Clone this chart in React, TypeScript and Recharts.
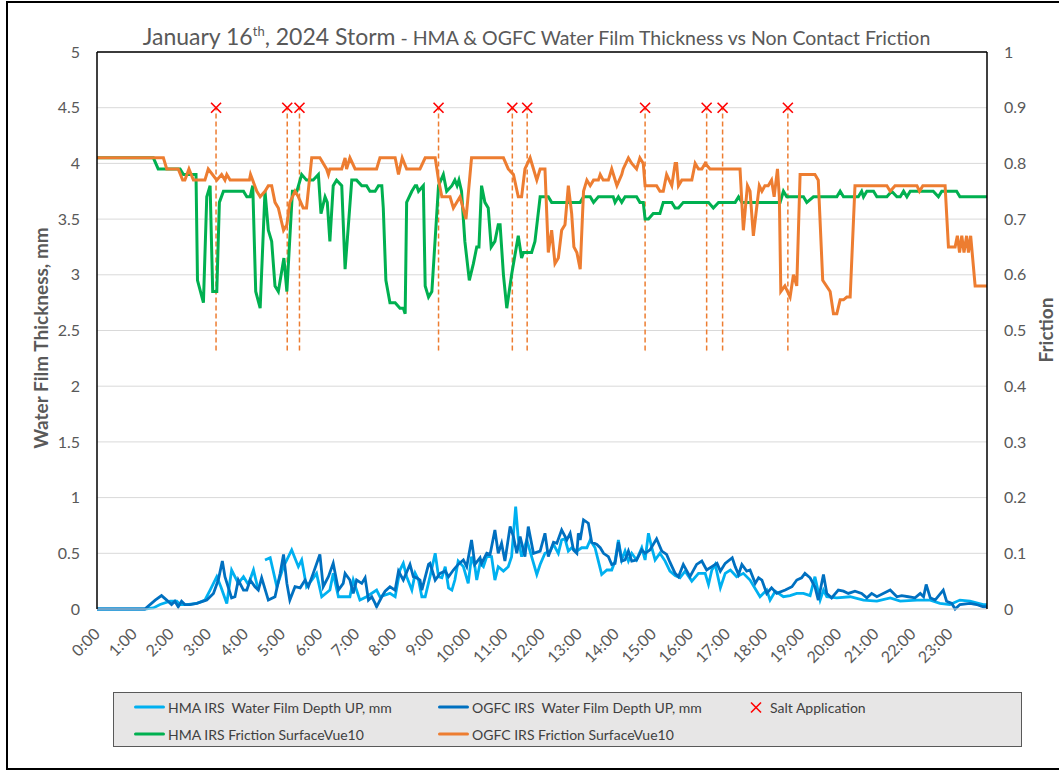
import { ComposedChart, Line, Scatter, ErrorBar, XAxis, YAxis, CartesianGrid, ReferenceLine } from "recharts";

// time in hours, value
const hourTicks = [0, 1, 2, 3, 4, 5, 6, 7, 8, 9, 10, 11, 12, 13, 14, 15, 16, 17, 18, 19, 20, 21, 22, 23];
const depthTicks = [0, 0.5, 1, 1.5, 2, 2.5, 3, 3.5, 4, 4.5, 5];
const frictionTicks = [0, 0.1, 0.2, 0.3, 0.4, 0.5, 0.6, 0.7, 0.8, 0.9, 1];

const hmaDepth: [number, number | null][] = [
  [0, 0], [1.29, 0], [1.52, 0.01], [1.7, 0.04], [1.97, 0.07], [2.15, 0.07], [2.24, 0.04], [2.42, 0.04], [2.69, 0.05], [2.91, 0.08],
  [3.05, 0.17], [3.23, 0.29], [3.34, 0.2], [3.5, 0.05], [3.63, 0.35], [3.81, 0.23], [3.95, 0.29], [4.08, 0.22], [4.22, 0.35], [4.35, 0.17],
  [4.44, null], [4.53, 0.44], [4.67, 0.46], [4.85, 0.2], [5.03, 0.38], [5.25, 0.53], [5.43, 0.38], [5.52, 0.44], [5.65, 0.2], [5.79, 0.26],
  [5.92, 0.32], [6.06, 0.11], [6.28, 0.17], [6.37, 0.32], [6.51, 0.11], [6.82, 0.11], [6.91, 0.26], [7.09, 0.08], [7.27, 0.11], [7.54, 0.17],
  [7.63, 0.11], [7.9, 0.14], [8.04, 0.11], [8.17, 0.35], [8.26, 0.41], [8.35, 0.29], [8.49, 0.17], [8.58, 0.32], [8.67, 0.26], [8.76, 0.11],
  [8.85, 0.11], [8.98, 0.29], [9.12, 0.5], [9.21, 0.29], [9.3, 0.28], [9.39, 0.38], [9.48, 0.19], [9.57, 0.17], [9.65, 0.26], [9.74, 0.43],
  [9.88, 0.38], [10.01, 0.23], [10.1, 0.47], [10.19, 0.38], [10.24, 0.26], [10.33, 0.41], [10.42, 0.38], [10.51, 0.47], [10.64, 0.47], [10.73, 0.26],
  [10.82, 0.38], [10.96, 0.34], [11.09, 0.38], [11.18, 0.47], [11.29, 0.92], [11.36, 0.63], [11.45, 0.47], [11.59, 0.62], [11.72, 0.47], [11.86, 0.31],
  [11.95, 0.4], [12.08, 0.5], [12.22, 0.52], [12.31, 0.58], [12.44, 0.5], [12.53, 0.62], [12.62, 0.63], [12.71, 0.52], [12.8, 0.55], [12.94, 0.52],
  [13.07, 0.55], [13.21, 0.55], [13.3, 0.62], [13.43, 0.55], [13.52, 0.43], [13.61, 0.31], [13.75, 0.35], [13.88, 0.35], [13.97, 0.43], [14.06, 0.62],
  [14.15, 0.44], [14.24, 0.52], [14.33, 0.43], [14.42, 0.5], [14.55, 0.44], [14.69, 0.55], [14.78, 0.44], [14.87, 0.68], [14.96, 0.55], [15.05, 0.44],
  [15.18, 0.5], [15.32, 0.43], [15.45, 0.34], [15.59, 0.3], [15.72, 0.28], [15.86, 0.34], [16.04, 0.25], [16.22, 0.32], [16.4, 0.32], [16.49, 0.22],
  [16.58, 0.35], [16.67, 0.4], [16.81, 0.19], [16.94, 0.32], [17.08, 0.35], [17.25, 0.29], [17.43, 0.32], [17.61, 0.26], [17.88, 0.11], [18.06, 0.17],
  [18.15, 0.08], [18.29, 0.16], [18.51, 0.11], [18.69, 0.12], [18.87, 0.14], [19.05, 0.14], [19.23, 0.12], [19.36, 0.29], [19.5, 0.08], [19.59, 0.17],
  [19.68, 0.11], [19.95, 0.1], [20.31, 0.11], [20.67, 0.08], [21.03, 0.07], [21.39, 0.1], [21.66, 0.07], [22.11, 0.08], [22.47, 0.08], [22.73, 0.05],
  [23.0, 0.04], [23.27, 0.08], [23.54, 0.07], [23.9, 0.04], [24, 0.04],
];

const ogfcDepth: [number, number][] = [
  [0, 0], [1.29, 0], [1.57, 0.08], [1.74, 0.12], [1.88, 0.08], [2.01, 0.04], [2.1, 0.07], [2.19, 0.02], [2.28, 0.07], [2.37, 0.04],
  [2.51, 0.04], [2.69, 0.05], [2.87, 0.07], [2.96, 0.08], [3.14, 0.14], [3.27, 0.26], [3.38, 0.43], [3.45, 0.29], [3.63, 0.1], [3.72, 0.11],
  [3.81, 0.26], [3.95, 0.17], [4.04, 0.17], [4.13, 0.26], [4.26, 0.2], [4.35, 0.17], [4.44, 0.28], [4.62, 0.08], [4.8, 0.11], [4.94, 0.32],
  [5.03, 0.49], [5.12, 0.23], [5.2, 0.08], [5.34, 0.2], [5.48, 0.19], [5.61, 0.26], [5.7, 0.2], [5.83, 0.32], [6.01, 0.49], [6.1, 0.2],
  [6.24, 0.29], [6.37, 0.41], [6.51, 0.17], [6.64, 0.23], [6.69, 0.32], [6.82, 0.26], [6.91, 0.14], [7.0, 0.26], [7.14, 0.23], [7.23, 0.28],
  [7.32, 0.08], [7.41, 0.11], [7.5, 0.05], [7.54, 0.02], [7.68, 0.11], [7.77, 0.16], [7.9, 0.2], [8.04, 0.17], [8.13, 0.34], [8.26, 0.26],
  [8.44, 0.4], [8.53, 0.29], [8.62, 0.28], [8.71, 0.26], [8.76, 0.17], [8.94, 0.4], [8.98, 0.41], [9.12, 0.26], [9.25, 0.32], [9.39, 0.34],
  [9.48, 0.29], [9.61, 0.35], [9.74, 0.4], [9.88, 0.44], [9.97, 0.38], [10.1, 0.62], [10.19, 0.4], [10.33, 0.46], [10.37, 0.41], [10.51, 0.5],
  [10.6, 0.49], [10.73, 0.71], [10.82, 0.5], [10.91, 0.59], [11.0, 0.43], [11.14, 0.74], [11.23, 0.65], [11.32, 0.5], [11.41, 0.65], [11.54, 0.47],
  [11.63, 0.74], [11.77, 0.5], [11.95, 0.52], [12.08, 0.68], [12.17, 0.47], [12.31, 0.6], [12.4, 0.59], [12.53, 0.71], [12.67, 0.62], [12.76, 0.68],
  [12.85, 0.53], [12.94, 0.5], [12.98, 0.68], [13.03, 0.62], [13.12, 0.8], [13.25, 0.77], [13.34, 0.6], [13.48, 0.58], [13.57, 0.55], [13.66, 0.5],
  [13.79, 0.47], [13.88, 0.4], [13.97, 0.41], [14.06, 0.6], [14.15, 0.43], [14.24, 0.44], [14.33, 0.52], [14.42, 0.43], [14.55, 0.44], [14.69, 0.53],
  [14.78, 0.5], [14.91, 0.53], [15.09, 0.63], [15.23, 0.52], [15.36, 0.49], [15.45, 0.42], [15.59, 0.32], [15.68, 0.29], [15.81, 0.4], [15.99, 0.29],
  [16.17, 0.4], [16.31, 0.43], [16.44, 0.35], [16.58, 0.38], [16.72, 0.41], [16.81, 0.34], [16.94, 0.41], [17.13, 0.46], [17.21, 0.38], [17.3, 0.31],
  [17.39, 0.4], [17.52, 0.34], [17.61, 0.35], [17.75, 0.23], [17.84, 0.28], [17.93, 0.26], [18.06, 0.14], [18.19, 0.19], [18.33, 0.14], [18.56, 0.17],
  [18.74, 0.2], [18.87, 0.26], [19.0, 0.28], [19.09, 0.32], [19.23, 0.28], [19.36, 0.2], [19.45, 0.08], [19.59, 0.31], [19.68, 0.14], [19.81, 0.1],
  [19.99, 0.17], [20.13, 0.16], [20.26, 0.14], [20.44, 0.16], [20.62, 0.14], [20.76, 0.1], [20.89, 0.14], [21.03, 0.11], [21.39, 0.17], [21.57, 0.11],
  [21.7, 0.12], [21.88, 0.11], [22.06, 0.1], [22.2, 0.14], [22.29, 0.11], [22.36, 0.22], [22.47, 0.1], [22.6, 0.08], [22.82, 0.17], [22.91, 0.07],
  [23.05, 0.05], [23.14, 0], [23.27, 0.04], [23.54, 0.05], [23.72, 0.04], [23.9, 0.02], [24, 0.02],
];

const hmaFriction: [number, number][] = [
  [0, 0.81], [1.52, 0.81], [1.65, 0.79], [2.24, 0.79], [2.33, 0.78], [2.67, 0.78], [2.71, 0.59], [2.87, 0.55], [2.96, 0.74], [3.05, 0.76],
  [3.12, 0.57], [3.23, 0.57], [3.3, 0.73], [3.41, 0.75], [3.95, 0.75], [4.04, 0.74], [4.13, 0.74], [4.2, 0.76], [4.28, 0.57], [4.4, 0.54],
  [4.53, 0.75], [4.62, 0.68], [4.71, 0.66], [4.8, 0.58], [4.89, 0.57], [5.04, 0.63], [5.12, 0.57], [5.27, 0.75], [5.39, 0.75], [5.52, 0.78],
  [5.65, 0.77], [5.83, 0.77], [5.97, 0.78], [6.04, 0.71], [6.15, 0.74], [6.21, 0.73], [6.28, 0.66], [6.37, 0.76], [6.46, 0.77], [6.6, 0.76],
  [6.69, 0.61], [6.87, 0.77], [7.0, 0.77], [7.14, 0.76], [7.27, 0.76], [7.36, 0.75], [7.5, 0.75], [7.59, 0.76], [7.68, 0.76], [7.72, 0.72],
  [7.79, 0.59], [7.9, 0.55], [8.04, 0.55], [8.17, 0.54], [8.26, 0.54], [8.31, 0.53], [8.35, 0.73], [8.49, 0.75], [8.58, 0.76], [8.62, 0.76],
  [8.67, 0.75], [8.8, 0.76], [8.85, 0.58], [8.94, 0.56], [9.03, 0.57], [9.21, 0.76], [9.34, 0.78], [9.43, 0.75], [9.57, 0.76], [9.65, 0.77],
  [9.71, 0.76], [9.76, 0.77], [9.83, 0.75], [9.92, 0.66], [10.04, 0.59], [10.15, 0.62], [10.24, 0.65], [10.3, 0.65], [10.37, 0.76], [10.46, 0.73],
  [10.55, 0.72], [10.63, 0.65], [10.73, 0.66], [10.82, 0.69], [10.87, 0.69], [10.96, 0.6], [11.05, 0.54], [11.18, 0.6], [11.36, 0.67], [11.45, 0.63],
  [11.5, 0.64], [11.72, 0.64], [11.81, 0.66], [11.95, 0.74], [12.17, 0.74], [12.26, 0.73], [13.03, 0.73], [13.12, 0.74], [13.3, 0.74], [13.39, 0.73],
  [13.52, 0.74], [13.92, 0.74], [13.97, 0.73], [14.06, 0.74], [14.15, 0.73], [14.24, 0.74], [14.55, 0.74], [14.64, 0.73], [14.73, 0.73], [14.78, 0.7],
  [14.87, 0.7], [15.0, 0.71], [15.18, 0.71], [15.27, 0.73], [15.5, 0.73], [15.59, 0.72], [15.68, 0.72], [15.81, 0.73], [16.49, 0.73], [16.62, 0.72],
  [16.76, 0.73], [17.21, 0.73], [17.3, 0.74], [17.39, 0.73], [18.42, 0.73], [18.51, 0.75], [18.6, 0.74], [19.05, 0.74], [19.14, 0.73], [19.32, 0.74],
  [19.95, 0.74], [20.04, 0.75], [20.13, 0.74], [20.53, 0.74], [20.62, 0.75], [20.67, 0.74], [20.76, 0.75], [20.94, 0.75], [21.03, 0.74], [21.3, 0.74],
  [21.43, 0.75], [21.57, 0.74], [21.66, 0.74], [21.75, 0.75], [21.84, 0.74], [21.93, 0.75], [22.55, 0.75], [22.69, 0.74], [22.78, 0.75], [23.18, 0.75],
  [23.27, 0.74], [24, 0.74],
];

const ogfcFriction: [number, number][] = [
  [0, 0.81], [1.79, 0.81], [1.88, 0.79], [2.19, 0.79], [2.31, 0.77], [2.37, 0.77], [2.48, 0.79], [2.6, 0.77], [2.91, 0.77], [3.0, 0.79],
  [3.23, 0.77], [3.36, 0.78], [3.45, 0.77], [3.5, 0.78], [3.59, 0.77], [4.11, 0.77], [4.14, 0.78], [4.31, 0.75], [4.4, 0.74], [4.53, 0.75],
  [4.62, 0.76], [4.71, 0.76], [4.8, 0.73], [4.89, 0.72], [5.03, 0.68], [5.12, 0.69], [5.2, 0.73], [5.34, 0.75], [5.43, 0.74], [5.56, 0.72],
  [5.65, 0.72], [5.79, 0.81], [6.01, 0.81], [6.19, 0.79], [6.24, 0.78], [6.28, 0.79], [6.6, 0.79], [6.69, 0.81], [6.73, 0.79], [6.82, 0.81],
  [6.96, 0.79], [7.54, 0.79], [7.63, 0.81], [8.04, 0.81], [8.13, 0.78], [8.23, 0.81], [8.35, 0.79], [8.71, 0.79], [8.85, 0.81], [9.12, 0.81],
  [9.21, 0.77], [9.3, 0.74], [9.52, 0.74], [9.61, 0.72], [9.79, 0.74], [9.95, 0.7], [10.1, 0.81], [10.96, 0.81], [11.09, 0.79], [11.23, 0.78],
  [11.36, 0.74], [11.45, 0.74], [11.54, 0.79], [11.68, 0.81], [11.77, 0.79], [11.86, 0.77], [11.95, 0.79], [12.08, 0.79], [12.17, 0.64], [12.26, 0.68],
  [12.35, 0.62], [12.44, 0.63], [12.53, 0.68], [12.62, 0.69], [12.71, 0.76], [12.8, 0.71], [12.86, 0.65], [12.94, 0.64], [13.03, 0.61], [13.12, 0.75],
  [13.21, 0.77], [13.3, 0.76], [13.39, 0.77], [13.52, 0.77], [13.57, 0.78], [13.65, 0.77], [13.79, 0.77], [13.88, 0.79], [14.02, 0.76], [14.15, 0.78],
  [14.19, 0.79], [14.33, 0.81], [14.42, 0.8], [14.55, 0.79], [14.64, 0.81], [14.73, 0.8], [14.78, 0.76], [15.09, 0.76], [15.18, 0.75], [15.27, 0.75],
  [15.36, 0.78], [15.5, 0.76], [15.59, 0.8], [15.63, 0.8], [15.68, 0.76], [15.77, 0.77], [16.04, 0.77], [16.13, 0.8], [16.22, 0.79], [16.31, 0.79],
  [16.4, 0.8], [16.53, 0.79], [17.34, 0.79], [17.43, 0.68], [17.54, 0.76], [17.61, 0.75], [17.7, 0.67], [17.77, 0.71], [17.86, 0.76], [17.93, 0.75],
  [18.01, 0.76], [18.1, 0.76], [18.19, 0.77], [18.26, 0.74], [18.35, 0.79], [18.4, 0.74], [18.44, 0.57], [18.55, 0.58], [18.69, 0.56], [18.78, 0.6],
  [18.87, 0.58], [18.96, 0.78], [19.36, 0.78], [19.45, 0.77], [19.57, 0.59], [19.77, 0.57], [19.86, 0.53], [19.95, 0.53], [20.04, 0.555], [20.13, 0.555],
  [20.22, 0.56], [20.31, 0.56], [20.44, 0.76], [21.3, 0.76], [21.39, 0.75], [21.52, 0.76], [22.11, 0.76], [22.18, 0.75], [22.27, 0.76], [22.87, 0.76],
  [22.96, 0.65], [23.14, 0.65], [23.2, 0.67], [23.26, 0.64], [23.32, 0.67], [23.38, 0.64], [23.45, 0.67], [23.5, 0.64], [23.56, 0.67], [23.68, 0.58],
  [24, 0.58],
];

// salt application times (h), marker level and dashed drop length on the left axis
const saltTimes = [3.21, 5.13, 5.46, 9.21, 11.2, 11.6, 14.78, 16.44, 16.87, 18.63];
const saltLevel = 4.5;
const saltDrop = 2.18;

const toRows = (pts: [number, number | null][]) => pts.map(([t, v]) => ({ t, v }));
const saltRows = saltTimes.map((t) => ({ t, v: saltLevel, err: [saltDrop, 0] }));

const HourTick = ({ x, y, payload }: any) => (
  <text x={x} y={y} dy="0.35em" textAnchor="end" fill="#595959" fontSize={16} transform={`rotate(-45 ${x} ${y})`}>
    {`${payload.value}:00`}
  </text>
);

const SaltMark = ({ cx, cy }: any) => {
  const s = 5;
  return (
    <g stroke="#FF0000" strokeWidth={1.6}>
      <line x1={cx - s} y1={cy - s} x2={cx + s} y2={cy + s} />
      <line x1={cx - s} y1={cy + s} x2={cx + s} y2={cy - s} />
    </g>
  );
};

const legendRows = [
  [
    { label: "HMA IRS  Water Film Depth UP, mm", color: "#00B0F0", mark: "line" },
    { label: "OGFC IRS  Water Film Depth UP, mm", color: "#0070C0", mark: "line" },
    { label: "Salt Application", color: "#FF0000", mark: "x" },
  ],
  [
    { label: "HMA IRS Friction SurfaceVue10", color: "#00B050", mark: "line" },
    { label: "OGFC IRS Friction SurfaceVue10", color: "#ED7D31", mark: "line" },
  ],
];
const legendCols = [20, 324, 636];

const font = "Lato, 'Open Sans', sans-serif";

export default function App() {
  return (
    <div style={{ position: "absolute", left: 0, top: 0, width: 1059, height: 773, background: "#fff", overflow: "hidden", fontFamily: font }}>
      <div style={{ position: "absolute", left: 6, top: 1, width: 1060, height: 769, border: "2px solid #000", boxSizing: "border-box" }} />

      <div style={{ position: "absolute", left: 0, top: 17, width: 1073, textAlign: "center", color: "#595959", whiteSpace: "nowrap", lineHeight: "28px" }}>
        <span style={{ fontSize: 23 }}>
          January 16<sup style={{ fontSize: 13 }}>th</sup>, 2024 Storm
        </span>
        <span style={{ fontSize: 19.5 }}> - HMA &amp; OGFC Water Film Thickness vs Non Contact Friction</span>
      </div>

      <div style={{ position: "absolute", left: 0, top: 0 }}>
        <ComposedChart width={1059} height={773} margin={{ top: 52, right: 0, bottom: 104, left: 0 }}>
          <CartesianGrid yAxisId="left" vertical={false} stroke="#d9d9d9" strokeWidth={1} />
          <XAxis
            type="number"
            dataKey="t"
            domain={[0, 24]}
            ticks={hourTicks}
            allowDataOverflow
            height={60}
            tickLine={false}
            tickSize={0}
            tickMargin={22}
            axisLine={{ stroke: "#d9d9d9", strokeWidth: 1 }}
            tick={<HourTick />}
            interval={0}
          />
          <YAxis
            yAxisId="left"
            domain={[0, 5]}
            ticks={depthTicks}
            width={97}
            tickLine={false}
            tickSize={0}
            tickMargin={17}
            axisLine={{ stroke: "#000", strokeWidth: 1.5 }}
            tick={{ fill: "#595959", fontSize: 16 }}
            interval={0}
          />
          <YAxis
            yAxisId="right"
            orientation="right"
            domain={[0, 1]}
            ticks={frictionTicks}
            width={72}
            tickLine={false}
            tickSize={0}
            tickMargin={17}
            axisLine={{ stroke: "#000", strokeWidth: 1.5 }}
            tick={{ fill: "#595959", fontSize: 16 }}
            interval={0}
          />
          <ReferenceLine yAxisId="left" y={5} stroke="#000" strokeWidth={1.5} />

          <Line yAxisId="left" data={toRows(hmaDepth)} dataKey="v" type="linear" stroke="#00B0F0" strokeWidth={2.8} dot={false} isAnimationActive={false} />
          <Line yAxisId="left" data={toRows(ogfcDepth)} dataKey="v" type="linear" stroke="#0070C0" strokeWidth={2.8} dot={false} isAnimationActive={false} />
          <Scatter yAxisId="left" data={saltRows} dataKey="v" shape={<SaltMark />} isAnimationActive={false}>
            <ErrorBar dataKey="err" direction="y" width={0} stroke="#ED7D31" strokeWidth={1.5} strokeDasharray="5 3" />
          </Scatter>
          <Line yAxisId="right" data={toRows(hmaFriction)} dataKey="v" type="linear" stroke="#00B050" strokeWidth={3} dot={false} isAnimationActive={false} />
          <Line yAxisId="right" data={toRows(ogfcFriction)} dataKey="v" type="linear" stroke="#ED7D31" strokeWidth={3} dot={false} isAnimationActive={false} />
        </ComposedChart>
      </div>

      <div style={{ position: "absolute", left: 40, top: 338, transform: "translate(-50%, -50%) rotate(-90deg)", whiteSpace: "nowrap", fontWeight: 700, fontSize: 19, color: "#595959" }}>
        Water Film Thickness, mm
      </div>
      <div style={{ position: "absolute", left: 1045, top: 330, transform: "translate(-50%, -50%) rotate(-90deg)", whiteSpace: "nowrap", fontWeight: 700, fontSize: 19, color: "#595959" }}>
        Friction
      </div>

      <div style={{ position: "absolute", left: 113, top: 692, width: 909, height: 55, background: "#e7e6e6", border: "1.5px solid #595959", boxSizing: "border-box" }}>
        {legendRows.map((row, r) =>
          row.map((item, c) => (
            <div key={`${r}-${c}`} style={{ position: "absolute", left: legendCols[c], top: 14 + r * 27, transform: "translateY(-50%)", display: "flex", alignItems: "center", whiteSpace: "pre", fontSize: 14, color: "#404040" }}>
              {item.mark === "line" ? (
                <span style={{ display: "inline-block", width: 31, height: 3, background: item.color, borderRadius: 2, marginRight: 3 }} />
              ) : (
                <svg width={12} height={12} style={{ marginRight: 8 }}>
                  <line x1={1} y1={1} x2={11} y2={11} stroke={item.color} strokeWidth={1.6} />
                  <line x1={1} y1={11} x2={11} y2={1} stroke={item.color} strokeWidth={1.6} />
                </svg>
              )}
              <span>{item.label}</span>
            </div>
          ))
        )}
      </div>
    </div>
  );
}
